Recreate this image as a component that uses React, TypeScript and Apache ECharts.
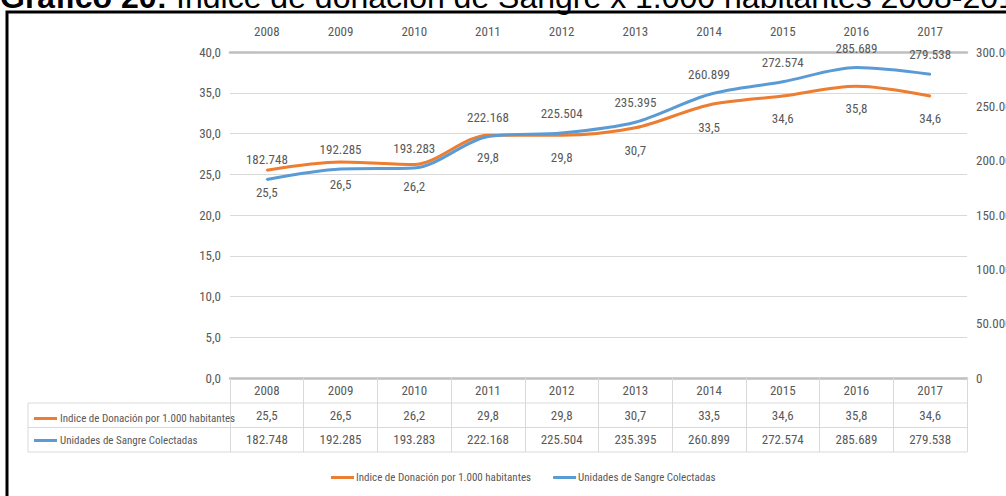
import React, { useEffect, useRef } from "react";
import * as echarts from "echarts";

const years = ["2008", "2009", "2010", "2011", "2012", "2013", "2014", "2015", "2016", "2017"];
const indexValues = [25.5, 26.5, 26.2, 29.8, 29.8, 30.7, 33.5, 34.6, 35.8, 34.6];
const unitValues = [182748, 192285, 193283, 222168, 225504, 235395, 260899, 272574, 285689, 279538];
const indexName = "Indice de Donación por 1.000 habitantes";
const unitsName = "Unidades de Sangre Colectadas";
const titleBold = "Gráfico 20:";
const titleRest = " Índice de donación de Sangre x 1.000 habitantes 2008-2017";

const FONT = "'Roboto Condensed', 'Noto Sans Condensed', 'Liberation Sans Narrow', 'Arial Narrow', Roboto, sans-serif";
const TXT = "#595959";
const ORANGE = "#ED7D31";
const BLUE = "#5B9BD5";

const fmtIndex = (v: number) => v.toFixed(1).replace(".", ",");
const fmtUnits = (v: number) => String(Math.round(v)).replace(/\B(?=(\d{3})+(?!\d))/g, ".");

const baseLabel = { color: TXT, fontFamily: FONT, fontSize: 13 };

export default function App() {
  const ref = useRef<HTMLDivElement>(null);
  useEffect(() => {
    document.body.style.margin = "0";
    document.body.style.overflow = "hidden";
    const chart = echarts.init(ref.current!, null, { renderer: "svg" });
    const tableAxis = (data: string[], offset: number) => ({
      type: "category",
      position: "bottom",
      offset,
      data,
      axisLine: { show: false, onZero: false },
      axisTick: { show: false },
      axisLabel: { ...baseLabel, margin: 6, interval: 0 },
    });
    chart.setOption({
      animation: false,
      backgroundColor: "#fff",
      grid: { left: 230, right: 39, top: 52, bottom: 118, containLabel: false, outerBoundsMode: "none" },
      xAxis: [
        {
          type: "category",
          position: "top",
          data: years,
          axisLine: { show: true, onZero: false, lineStyle: { color: "#bfbfbf", width: 2.5 } },
          axisTick: { show: false },
          axisLabel: { ...baseLabel, margin: 14, interval: 0 },
        },
        {
          type: "category",
          position: "bottom",
          data: years,
          axisLine: { show: true, onZero: false, lineStyle: { color: "#bfbfbf", width: 2.5 } },
          axisTick: { show: true, inside: false, length: 74, lineStyle: { color: "#d9d9d9", width: 1 } },
          axisLabel: { ...baseLabel, margin: 6, interval: 0 },
        },
        tableAxis(indexValues.map(fmtIndex), 25),
        tableAxis(unitValues.map(fmtUnits), 49),
      ],
      yAxis: [
        {
          type: "value",
          min: 0,
          max: 40,
          interval: 5,
          axisLine: { show: false },
          axisTick: { show: false },
          axisLabel: { ...baseLabel, margin: 9, formatter: (v: number) => fmtIndex(v) },
          splitLine: { lineStyle: { color: "#d9d9d9", width: 1 } },
        },
        {
          type: "value",
          min: 0,
          max: 300000,
          interval: 50000,
          position: "right",
          axisLine: { show: false },
          axisTick: { show: false },
          axisLabel: { ...baseLabel, margin: 9, formatter: (v: number) => (v === 0 ? "0" : fmtUnits(v)) },
          splitLine: { show: false },
        },
      ],
      legend: [
        {
          orient: "vertical",
          left: 29,
          top: 408,
          itemWidth: 23,
          itemHeight: 3,
          itemGap: 11,
          icon: "rect",
          selectedMode: false,
          textStyle: { ...baseLabel, fontSize: 11, padding: [0, 0, 0, -2] },
          data: [indexName, unitsName],
        },
        {
          orient: "horizontal",
          left: 326,
          top: 467,
          itemWidth: 23,
          itemHeight: 3,
          itemGap: 22,
          icon: "rect",
          selectedMode: false,
          textStyle: { ...baseLabel, fontSize: 11, padding: [0, 0, 0, -3] },
          data: [indexName, unitsName],
        },
      ],
      series: [
        {
          name: indexName,
          type: "line",
          xAxisIndex: 0,
          yAxisIndex: 0,
          data: indexValues,
          smooth: 0.3,
          symbol: "circle",
          symbolSize: 2,
          lineStyle: { color: ORANGE, width: 3 },
          itemStyle: { color: ORANGE },
          label: { show: true, position: "bottom", distance: 15, ...baseLabel, formatter: (p: any) => fmtIndex(p.value) },
        },
        {
          name: unitsName,
          type: "line",
          xAxisIndex: 0,
          yAxisIndex: 1,
          data: unitValues,
          smooth: 0.3,
          symbol: "circle",
          symbolSize: 2,
          lineStyle: { color: BLUE, width: 3 },
          itemStyle: { color: BLUE },
          label: { show: true, position: "top", distance: 12, ...baseLabel, formatter: (p: any) => fmtUnits(p.value) },
        },
      ],
      graphic: [
        { type: "line", shape: { x1: 28, y1: 403, x2: 967, y2: 403 }, style: { stroke: "#d9d9d9", lineWidth: 1 } },
        { type: "line", shape: { x1: 28, y1: 427.5, x2: 967, y2: 427.5 }, style: { stroke: "#d9d9d9", lineWidth: 1 } },
        { type: "line", shape: { x1: 28, y1: 452, x2: 967, y2: 452 }, style: { stroke: "#d9d9d9", lineWidth: 1 } },
        { type: "line", shape: { x1: 28, y1: 403, x2: 28, y2: 452 }, style: { stroke: "#d9d9d9", lineWidth: 1 } },
        { type: "rect", shape: { x: 7, y: 12, width: 1200, height: 700 }, style: { fill: "none", stroke: "#000", lineWidth: 3 } },
        {
          type: "text",
          x: 0,
          y: 13,
          style: {
            text: "{b|" + titleBold + "}" + titleRest,
            fontFamily: "'Liberation Sans', Arial, sans-serif",
            fontSize: 32,
            fill: "#000",
            verticalAlign: "bottom",
            rich: { b: { fontWeight: "bold", fontSize: 32, fontFamily: "'Liberation Sans', Arial, sans-serif" } },
          },
        },
      ],
    });
    return () => chart.dispose();
  }, []);
  return <div ref={ref} style={{ width: 1006, height: 496 }} />;
}
